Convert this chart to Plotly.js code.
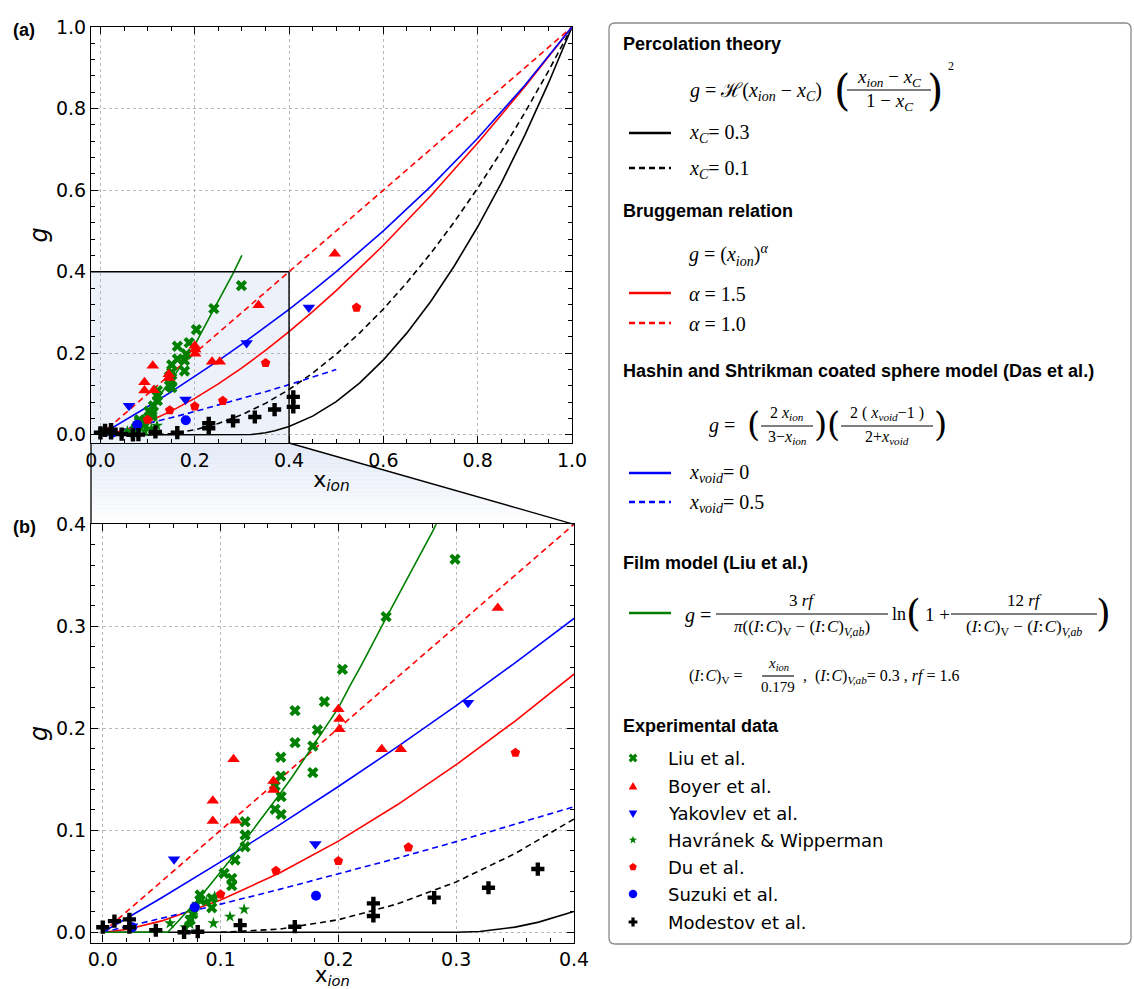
<!DOCTYPE html>
<html><head><meta charset="utf-8">
<script src="https://cdn.plot.ly/plotly-3.0.1.min.js"></script>
<style>html,body{margin:0;padding:0;background:#fff}#chart{width:1134px;height:989px}</style>
</head><body><div id="chart"></div>
<script>
// ---------------- model curves ----------------
const percX03 = [0, 0.30, 0.32, 0.35, 0.37, 0.40, 0.45, 0.50, 0.55, 0.60, 0.65, 0.70, 0.75, 0.80, 0.85, 0.90, 0.95, 1.00];
const percY03 = [0, 0, 0.0008, 0.0051, 0.0100, 0.0204, 0.0459, 0.0816, 0.1276, 0.1837, 0.2500, 0.3265, 0.4133, 0.5102, 0.6173, 0.7347, 0.8622, 1.0];
const percX01 = [0.10, 0.15, 0.20, 0.25, 0.30, 0.35, 0.40, 0.45, 0.50, 0.55, 0.60, 0.65, 0.70, 0.75, 0.80, 0.85, 0.90, 0.95, 1.00];
const percY01 = [0, 0.0031, 0.0123, 0.0278, 0.0494, 0.0772, 0.1111, 0.1512, 0.1975, 0.2500, 0.3086, 0.3735, 0.4444, 0.5216, 0.6049, 0.6944, 0.7901, 0.8920, 1.0];
const brugX15 = [0, 0.02, 0.05, 0.10, 0.15, 0.20, 0.25, 0.30, 0.35, 0.40, 0.45, 0.50, 0.60, 0.70, 0.80, 0.90, 1.00];
const brugY15 = [0, 0.0028, 0.0112, 0.0316, 0.0581, 0.0894, 0.1250, 0.1643, 0.2071, 0.2530, 0.3019, 0.3536, 0.4648, 0.5857, 0.7155, 0.8538, 1.0];
const brugX10 = [0, 1.0];
const brugY10 = [0, 1.0];
const hsX0 = [0, 0.05, 0.10, 0.15, 0.20, 0.25, 0.30, 0.35, 0.40, 0.45, 0.50, 0.60, 0.70, 0.80, 0.90, 1.00];
const hsY0 = [0, 0.0339, 0.0690, 0.1053, 0.1429, 0.1818, 0.2222, 0.2642, 0.3077, 0.3529, 0.4000, 0.5000, 0.6087, 0.7273, 0.8571, 1.0];
const hsX05 = [0, 0.05, 0.10, 0.15, 0.20, 0.25, 0.30, 0.35, 0.40, 0.45, 0.50];
const hsY05 = [0, 0.0136, 0.0276, 0.0421, 0.0571, 0.0727, 0.0889, 0.1057, 0.1231, 0.1412, 0.1600];
const filmX = [0, 0.055, 0.06, 0.065, 0.07, 0.08, 0.09, 0.10, 0.11, 0.12, 0.13, 0.14, 0.15, 0.16, 0.17, 0.18, 0.19, 0.20, 0.21, 0.22, 0.24, 0.26, 0.28, 0.30];
const filmY = [0, 0, 0.006, 0.012, 0.018, 0.031, 0.045, 0.059, 0.0735, 0.089, 0.104, 0.119, 0.135, 0.151, 0.168, 0.185, 0.202, 0.220, 0.242, 0.263, 0.307, 0.350, 0.393, 0.440];

// ---------------- experimental data ----------------
const liuX = [0.2034, 0.1881, 0.1632, 0.1822, 0.1632, 0.1783, 0.1511, 0.1511, 0.1783, 0.1463, 0.1514, 0.1463, 0.1514, 0.1208, 0.1208, 0.1208, 0.1123, 0.1030, 0.1095, 0.1095, 0.0826, 0.0826, 0.0925, 0.0925, 0.0764, 0.0741, 0.2990, 0.2405];
const liuY = [0.2578, 0.2261, 0.2173, 0.1983, 0.1859, 0.1826, 0.1716, 0.1532, 0.1565, 0.1434, 0.1330, 0.1206, 0.1157, 0.1084, 0.0954, 0.0839, 0.0709, 0.0578, 0.0529, 0.0457, 0.0366, 0.0317, 0.0333, 0.0241, 0.0180, 0.0120, 0.3657, 0.3094];
const boyerX = [0.0934, 0.0934, 0.1110, 0.1129, 0.1449, 0.1449, 0.2000, 0.2009, 0.2009, 0.2368, 0.2530, 0.3353, 0.4970];
const boyerY = [0.1290, 0.1090, 0.1696, 0.1094, 0.1483, 0.1395, 0.2186, 0.2090, 0.1990, 0.1794, 0.1794, 0.3180, 0.4438];
const yakX = [0.0605, 0.1805, 0.3100, 0.4420];
const yakY = [0.0716, 0.0866, 0.2250, 0.3120];
const havX = [0.0571, 0.0741, 0.0939, 0.1080, 0.1200, 0.0750, 0.0780, 0.0800, 0.0880, 0.0950, 0.0700];
const havY = [0.0088, 0.0081, 0.0088, 0.0153, 0.0225, 0.0150, 0.0210, 0.0280, 0.0300, 0.0350, 0.0050];
const duX = [0.1000, 0.1470, 0.2000, 0.2594, 0.3503, 0.5430];
const duY = [0.0372, 0.0604, 0.0699, 0.0833, 0.1760, 0.3120];
const suzX = [0.0250, 0.0780, 0.1810];
const suzY = [0.0050, 0.0245, 0.0359];
const modX = [0.0000, 0.0099, 0.0226, 0.0226, 0.0450, 0.0690, 0.0806, 0.1166, 0.1630, 0.2297, 0.2297, 0.2813, 0.3274, 0.3693, 0.4090, 0.4090];
const modY = [0.0050, 0.0110, 0.0127, 0.0050, 0.0020, 0.0000, 0.0006, 0.0070, 0.0055, 0.0284, 0.0160, 0.0340, 0.0437, 0.0620, 0.0930, 0.0686];

const expNames = ['Liu et al.', 'Boyer et al.', 'Yakovlev et al.', 'Havránek & Wipperman', 'Du et al.', 'Suzuki et al.', 'Modestov et al.'];
const tickStep = {a: 0.2, b: 0.1};

// ---------------- helpers ----------------
const W = 1134, H = 989;
const PX = x => x / W, PY = y => 1 - y / H;
const GREEN = '#008000', RED = '#ff0000', BLUE = '#0000ff', BLACK = '#000000';
const SERIF = 'Liberation Serif, DejaVu Serif, serif';
const SANS = 'Liberation Sans, Arial, sans-serif';
const DJ = 'DejaVu Sans, sans-serif';

function both(tr) {
  return [Object.assign({}, tr, {xaxis: 'x', yaxis: 'y'}), Object.assign({}, tr, {xaxis: 'x2', yaxis: 'y2'})];
}
function lineTr(x, y, color, dash) {
  return both({type: 'scatter', mode: 'lines', x: x, y: y, hoverinfo: 'skip', showlegend: false,
    line: {color: color, width: 1.6, dash: dash || 'solid'}});
}
function markTr(x, y, symbol, color, size, name) {
  return both({type: 'scatter', mode: 'markers', x: x, y: y, name: name, showlegend: false,
    marker: {symbol: symbol, color: color, size: size, line: {width: 0}}});
}

const traces = [].concat(
  lineTr(percX03, percY03, BLACK),
  lineTr(percX01, percY01, BLACK, '6px,4px'),
  lineTr(brugX15, brugY15, RED),
  lineTr(brugX10, brugY10, RED, '6px,4px'),
  lineTr(hsX0, hsY0, BLUE),
  lineTr(hsX05, hsY05, BLUE, '6px,4px'),
  lineTr(filmX, filmY, GREEN),
  markTr(liuX, liuY, 'x', GREEN, 10, expNames[0]),
  markTr(boyerX, boyerY, 'triangle-up', RED, 11, expNames[1]),
  markTr(yakX, yakY, 'triangle-down', BLUE, 11, expNames[2]),
  markTr(havX, havY, 'star', GREEN, 9, expNames[3]),
  markTr(duX, duY, 'pentagon', RED, 10, expNames[4]),
  markTr(suzX, suzY, 'circle', BLUE, 10, expNames[5]),
  markTr(modX, modY, 'cross', BLACK, 11, expNames[6])
);

// ---------------- axes ----------------
function ax(extra, step, minorStep) {
  return Object.assign({
    showline: true, linecolor: '#000', linewidth: 1.2, mirror: 'allticks',
    ticks: 'inside', ticklen: 7, tickwidth: 1.2, tickcolor: '#000',
    showgrid: true, gridcolor: '#b8b8b8', griddash: 'dot', gridwidth: 1, zeroline: false,
    tickfont: {family: DJ, size: 19, color: '#000'}, tickformat: '.1f',
    tickmode: 'linear', tick0: 0, dtick: step,
    minor: {tickmode: 'linear', tick0: 0, dtick: minorStep, ticks: 'inside', ticklen: 4, tickwidth: 1, tickcolor: '#000', showgrid: false}
  }, extra);
}
const xDomA = [91 / W, 572 / W], yDomA = [PY(443), PY(27)];
const xDomB = [91 / W, 574 / W], yDomB = [PY(942.5), PY(524.3)];
const xTitleA = {text: 'x<sub><i>ion</i></sub>', font: {family: DJ, size: 22, color: '#000'}, standoff: 1};
const xTitleB = {text: 'x<sub><i>ion</i></sub>', font: {family: DJ, size: 21, color: '#000'}, standoff: 6};
const yTitle = {text: '<i>g</i>', font: {family: DJ, size: 24, color: '#000'}, standoff: 1};

const layout = {
  width: W, height: H, margin: {l: 0, r: 0, t: 0, b: 0},
  paper_bgcolor: '#fff', plot_bgcolor: 'rgba(0,0,0,0)', showlegend: false,
  font: {family: DJ, color: '#000'},
  xaxis: ax({domain: xDomA, range: [-0.02, 1.0], anchor: 'y', title: xTitleA}, tickStep.a, 0.05),
  yaxis: ax({domain: yDomA, range: [-0.02, 1.0], anchor: 'x', title: yTitle}, tickStep.a, 0.04),
  xaxis2: ax({domain: xDomB, range: [-0.01, 0.4], anchor: 'y2', title: xTitleB}, tickStep.b, 0.02),
  yaxis2: ax({domain: yDomB, range: [-0.01, 0.4], anchor: 'x2', title: yTitle}, tickStep.b, 0.02),
  shapes: [], annotations: []
};
const S = layout.shapes, A = layout.annotations;

// inset box in (a)
S.push({type: 'rect', xref: 'x', yref: 'y', x0: -0.02, x1: 0.4, y0: -0.02, y1: 0.4, fillcolor: '#edf1f9', line: {width: 0}, layer: 'below'});
S.push({type: 'line', xref: 'x', yref: 'y', x0: 0.4, x1: 0.4, y0: -0.02, y1: 0.4, line: {color: '#000', width: 1.4}});
S.push({type: 'line', xref: 'x', yref: 'y', x0: -0.02, x1: 0.4, y0: 0.4, y1: 0.4, line: {color: '#000', width: 1.4}});

// connector between panels (pixel geometry)
const cTop = 443, cBot = 524.3, cL = 91, cRT = 91 + (0.42 / 1.02) * 481, cRB = 574;
const xr = y => cRT + (y - cTop) / (cBot - cTop) * (cRB - cRT);
const nb = 20, bh = (cBot - cTop) / nb;
for (let i = 0; i < nb; i++) {
  const t = cTop + i * bh, b = Math.min(cBot, t + bh + 0.6);
  const al = (0.95 * (1 - (i + 0.5) / nb)).toFixed(3);
  S.push({type: 'path', xref: 'paper', yref: 'paper', layer: 'below', line: {width: 0},
    fillcolor: `rgba(226,233,246,${al})`,
    path: `M${PX(cL)},${PY(t)} L${PX(xr(t))},${PY(t)} L${PX(xr(b))},${PY(b)} L${PX(cL)},${PY(b)} Z`});
}
S.push({type: 'line', xref: 'paper', yref: 'paper', x0: PX(cRT), y0: PY(cTop), x1: PX(cRB), y1: PY(cBot), line: {color: '#000', width: 1.3}});
S.push({type: 'line', xref: 'paper', yref: 'paper', x0: PX(cL), y0: PY(cTop), x1: PX(cL), y1: PY(cBot), line: {color: '#000', width: 1.3}});

// panel labels
function T(x, y, text, size, o) {
  return Object.assign({xref: 'paper', yref: 'paper', x: PX(x), y: PY(y), text: text, showarrow: false,
    xanchor: 'left', yanchor: 'middle', font: {family: SERIF, size: size, color: '#000'}}, o || {});
}
A.push(T(11, 30, '<b>(a)</b>', 18, {font: {family: SANS, size: 18, color: '#000'}}));
A.push(T(11, 527, '<b>(b)</b>', 18, {font: {family: SANS, size: 18, color: '#000'}}));

// ---------------- legend panel ----------------
function L(x0, y0, x1, y1, color, width, dash) {
  S.push({type: 'line', xref: 'paper', yref: 'paper', x0: PX(x0), y0: PY(y0), x1: PX(x1), y1: PY(y1),
    line: {color: color, width: width, dash: dash || 'solid'}});
}
// rounded box
(function () {
  const x0 = 609, y0 = 23, x1 = 1131, y1 = 944, r = 6;
  const p = `M${PX(x0 + r)},${PY(y0)} L${PX(x1 - r)},${PY(y0)} Q${PX(x1)},${PY(y0)} ${PX(x1)},${PY(y0 + r)} ` +
    `L${PX(x1)},${PY(y1 - r)} Q${PX(x1)},${PY(y1)} ${PX(x1 - r)},${PY(y1)} L${PX(x0 + r)},${PY(y1)} ` +
    `Q${PX(x0)},${PY(y1)} ${PX(x0)},${PY(y1 - r)} L${PX(x0)},${PY(y0 + r)} Q${PX(x0)},${PY(y0)} ${PX(x0 + r)},${PY(y0)} Z`;
  S.push({type: 'path', xref: 'paper', yref: 'paper', path: p, line: {color: '#8a8a8a', width: 1.3}, fillcolor: 'rgba(255,255,255,0)'});
})();

const HEAD = {font: {family: SANS, size: 18, color: '#000'}};
const sub = s => `<sub>${s}</sub>`;
const it = s => `<i>${s}</i>`;
const ion = it('x') + sub(it('ion'));
const xC = it('x') + sub(it('C'));
const xv = it('x') + sub(it('void'));
const IC = '(' + it('I') + ':&#8202;' + it('C') + ')';

function frac(cx, yNum, yBar, yDen, num, den, half, size) {
  A.push(T(cx, yNum, num, size, {xanchor: 'center'}));
  A.push(T(cx, yDen, den, size, {xanchor: 'center'}));
  L(cx - half, yBar, cx + half, yBar, '#000', 1.1);
}
function paren(x, y, ch, size) {
  A.push(T(x, y, ch, size, {xanchor: 'center', font: {family: 'DejaVu Serif, serif', size: size, color: '#000'}}));
}

// Percolation theory
A.push(T(621, 44, '<b>Percolation theory</b>', 18, HEAD));
A.push(T(688, 92, it('g') + ' = ℋ(' + ion + ' − ' + xC + ')', 20));
paren(842, 90, '(', 42); paren(935, 90, ')', 42);
frac(889, 78, 90, 102, ion + ' − ' + xC, '1 − ' + xC, 42, 19);
A.push(T(946, 66, '2', 12));
L(629, 133, 671, 133, BLACK, 2.6);
A.push(T(687, 134, xC + '= 0.3', 20));
L(629, 168, 671, 168, BLACK, 2.6, '6px,4px');
A.push(T(687, 169, xC + '= 0.1', 20));

// Bruggeman
A.push(T(621, 211, '<b>Bruggeman relation</b>', 18, HEAD));
A.push(T(687, 255, it('g') + ' = (' + ion + ')<sup>' + it('α') + '</sup>', 20));
L(629, 293, 671, 293, RED, 2.6);
A.push(T(687, 294, it('α') + ' = 1.5', 20));
L(629, 323, 671, 323, RED, 2.6, '6px,4px');
A.push(T(687, 324, it('α') + ' = 1.0', 20));

// Hashin-Shtrikman
A.push(T(621, 371, '<b>Hashin and Shtrikman coated sphere model (Das et al.)</b>', 18, HEAD));
A.push(T(707, 425, it('g') + ' =', 20));
paren(753, 424, '(', 34); paren(820, 424, ')', 34);
frac(787, 413, 426, 437, '2 ' + ion, '3−' + ion, 26, 16);
paren(833, 424, '(', 34); paren(940, 424, ')', 34);
frac(887, 413, 426, 437, '2 ( ' + xv + '−1 )', '2+' + xv, 46, 16);
L(629, 473, 671, 473, BLUE, 2.6);
A.push(T(687, 473, xv + '= 0', 20));
L(629, 502, 671, 502, BLUE, 2.6, '6px,4px');
A.push(T(687, 503, xv + '= 0.5', 20));

// Film model
A.push(T(621, 563, '<b>Film model (Liu et al.)</b>', 18, HEAD));
L(629, 613, 671, 613, GREEN, 2.6);
A.push(T(683, 615, it('g') + ' =', 20));
frac(802, 600, 614, 628, '3 ' + it('rf'), it('π') + '(' + IC + sub('V') + ' − ' + IC + sub(it('V,ab')) + ')', 86, 17);
A.push(T(890, 614, 'ln', 18));
paren(913, 613, '(', 38);
A.push(T(923, 614, '1 +', 19));
frac(1024, 600, 614, 628, '12 ' + it('rf'), IC + sub('V') + ' − ' + IC + sub(it('V,ab')), 73, 17);
paren(1103, 613, ')', 38);
A.push(T(687, 676, IC + sub('V') + ' =', 16));
frac(778, 664, 676, 687, ion, '0.179', 16, 15);
A.push(T(801, 676, ',  ' + IC + sub(it('V,ab')) + '= 0.3 , ' + it('rf') + ' = 1.6', 16));

// Experimental data
A.push(T(621, 726, '<b>Experimental data</b>', 18, HEAD));
const legY = [758, 786, 813, 840, 867, 894, 922];
const legCol = [GREEN, RED, BLUE, GREEN, RED, BLUE, BLACK];
function poly(cx, cy, pts, color) {
  const d = pts.map((p, i) => (i ? 'L' : 'M') + PX(cx + p[0]) + ',' + PY(cy + p[1])).join(' ') + ' Z';
  S.push({type: 'path', xref: 'paper', yref: 'paper', path: d, fillcolor: color, line: {width: 0}});
}
function ngon(n, r, rot, r2) {
  const pts = [];
  const m = r2 ? 2 * n : n;
  for (let i = 0; i < m; i++) {
    const rr = r2 && (i % 2) ? r2 : r;
    const a = rot + i * 2 * Math.PI / m;
    pts.push([rr * Math.cos(a), rr * Math.sin(a)]);
  }
  return pts;
}
function crossPts(r, t) {
  return [[-t, -r], [t, -r], [t, -t], [r, -t], [r, t], [t, t], [t, r], [-t, r], [-t, t], [-r, t], [-r, -t], [-t, -t]];
}
function xPts(r, t) {
  const c = Math.SQRT1_2;
  return crossPts(r, t).map(p => [(p[0] - p[1]) * c, (p[0] + p[1]) * c]);
}
const legShapes = [
  xPts(4.6, 1.6),
  ngon(3, 5, -Math.PI / 2),
  ngon(3, 5, Math.PI / 2),
  ngon(5, 4.2, -Math.PI / 2, 1.8),
  ngon(5, 4, -Math.PI / 2),
  ngon(20, 4.2, 0),
  crossPts(4.4, 1.6)
];
for (let i = 0; i < expNames.length; i++) {
  poly(633, legY[i] + (i === 1 ? 1 : 0), legShapes[i], legCol[i]);
  A.push(T(666, legY[i], expNames[i], 18, {font: {family: DJ, size: 18, color: '#000'}}));
}

Plotly.newPlot('chart', traces, layout, {displayModeBar: false, responsive: false});
</script>
</body></html>
